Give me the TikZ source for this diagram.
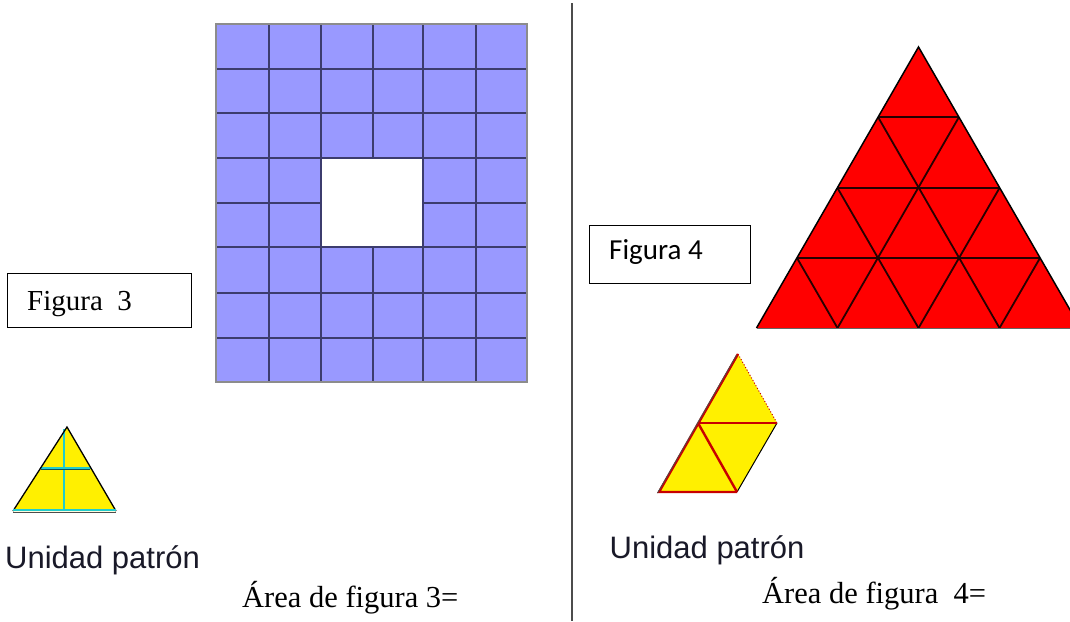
\documentclass[tikz,border=0pt]{standalone}
\usepackage{fontspec}
\setmainfont{Liberation Serif}
\newfontfamily\arialf{Liberation Sans}
\newfontfamily\calibf{Carlito}
\definecolor{gridblue}{HTML}{9999FF}
\definecolor{gridline}{RGB}{60,60,110}
\definecolor{unitcyan}{HTML}{22CCCC}
\definecolor{unityellow}{HTML}{FFF000}
\definecolor{darkred}{HTML}{C80000}
\definecolor{unidadtxt}{RGB}{25,25,40}
\tikzset{
  labelbox/.style={draw=black, line width=1.2pt, inner sep=0pt, anchor=north west},
  serifbig/.style={inner sep=0pt, anchor=base west, font=\fontsize{29}{32}\selectfont},
  areatxt/.style={inner sep=0pt, anchor=base west, font=\fontsize{30.5}{33}\selectfont},
  unidad/.style={inner sep=0pt, anchor=base west, text=unidadtxt, font=\arialf\fontsize{31}{34}\selectfont},
  gridln/.style={draw=gridline, line width=1.8pt},
  trild/.style={draw=black!85!red, line width=1.8pt},
}
\begin{document}
\begin{tikzpicture}[x=1pt,y=-1pt]
\useasboundingbox[fill=white] (0,0) rectangle (1070,621);

% divider
\draw[draw=black!70, line width=2pt] (572,3) -- (572,621);

% ---------- Figure 3: grid with hole ----------
\fill[gridblue] (216,24) rectangle (527,382);
\fill[white] (321,158) rectangle (423,247);
\foreach \x in {269,321,423,476}
  \draw[gridln] (\x,24) -- (\x,382);
\draw[gridln] (373,24) -- (373,158);
\draw[gridln] (373,247) -- (373,382);
\foreach \y in {69,113,158,247,293,338}
  \draw[gridln] (216,\y) -- (527,\y);
\draw[gridln] (216,203) -- (321,203);
\draw[gridln] (423,203) -- (527,203);
\draw[draw=black!45, line width=1.2pt] (216,24) rectangle (527,382);

% label box figura 3
\node[labelbox, minimum width=184pt, minimum height=54pt] (box3) at (7,273) {};
\node[serifbig] (fig3) at (27,310) {Figura~~3};

% unit triangle (left)
\fill[unityellow] (67,427) -- (13,511) -- (116,511) -- cycle;
\draw[unitcyan, line width=1.6pt] (64,429) -- (64,511);
\draw[unitcyan, line width=1.6pt] (40,468) -- (91,468);
\draw[black!60!unitcyan, line width=1.2pt] (41,469.5) -- (90,469.5);
\draw[black, line width=1.3pt] (13,511) -- (67,427) -- (116,511);
\draw[unitcyan, line width=2pt] (13,510) -- (116,510);
\draw[black!70, line width=1pt] (13,512.5) -- (116,512.5);

\node[unidad] (unid3) at (5,568) {Unidad patrón};
\node[areatxt] (area3) at (242,607) {Área de f{}igura 3=};

% ---------- Figure 4: big red triangle ----------
\begin{scope}
\clip (574,0) rectangle (1070,621);
\fill[red] (918.5,47) -- (756.5,328) -- (1080.5,328) -- cycle;
% row lines
\draw[trild] (878,117) -- (959,117);
\draw[trild] (837.5,188) -- (999.5,188);
\draw[trild] (797,258) -- (1040,258);
% lines parallel to the left side
\draw[trild] (959,117) -- (837.5,328);
\draw[trild] (999.5,188) -- (918.5,328);
\draw[trild] (1040,258) -- (999.5,328);
% lines parallel to the right side
\draw[trild] (878,117) -- (999.5,328);
\draw[trild] (837.5,188) -- (918.5,328);
\draw[trild] (797,258) -- (837.5,328);
\draw[black, line width=1.5pt] (756.5,328) -- (918.5,47) -- (1080.5,328);
\draw[black!60, line width=1pt] (756.5,328) -- (1080.5,328);
\end{scope}

% label box figura 4
\node[labelbox, minimum width=161pt, minimum height=58pt] (box4) at (589,225) {};
\node[inner sep=0pt, anchor=base west, font=\calibf\fontsize{29}{32}\selectfont] (fig4) at (609,259) {Figura 4};

% unit parallelogram
\fill[unityellow] (738,354) -- (659,492) -- (737,492) -- (777,423) -- cycle;
\draw[darkred, line width=1pt, dotted] (738,354) -- (777,423);
\draw[black, line width=1pt] (777,423) -- (737,492);
\draw[darkred, line width=2.4pt] (738,354) -- (659,492) -- (737,492);
\draw[darkred, line width=2.4pt] (698,423) -- (777,423);
\draw[darkred, line width=2.4pt] (698,423) -- (737,492);
\draw[black!70, line width=0.8pt] (736.5,355) -- (657.5,493);

\node[unidad] (unid4) at (609.5,558) {Unidad patrón};
\node[areatxt] (area4) at (762,603) {Área de figura~~4=};
\end{tikzpicture}
\end{document}
